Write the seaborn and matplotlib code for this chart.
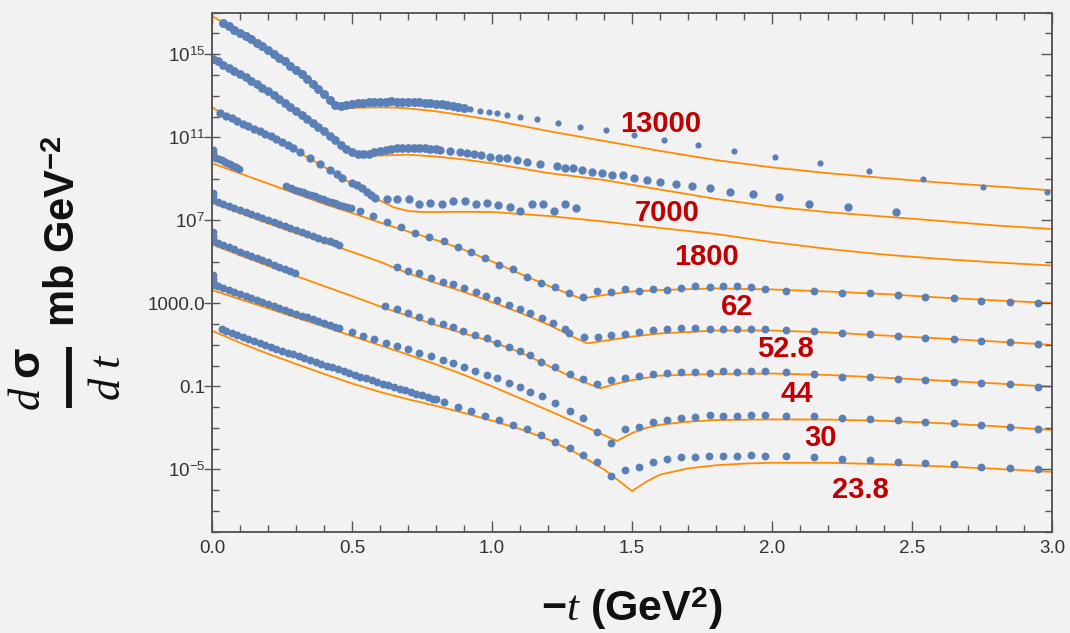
import numpy as np
import matplotlib
matplotlib.use("Agg")
import matplotlib.pyplot as plt
import seaborn as sns
from matplotlib.lines import Line2D
from matplotlib.ticker import FixedLocator, MultipleLocator, FormatStrFormatter, NullFormatter

# ---------------------------------------------------------------------------
# Data. x = -t (GeV^2); y stored as log10 of
# the plotted (already offset-scaled) d(sigma)/dt values.
# ---------------------------------------------------------------------------
energies = ["13000", "7000", "1800", "62", "52.8", "44", "30", "23.8"]

# ---- 13000 ----
t_13000 = [0.04, 0.06, 0.08, 0.10, 0.12, 0.14, 0.16, 0.18, 0.20, 0.22, 0.24, 0.26,
           0.28, 0.30, 0.32, 0.34, 0.36, 0.38, 0.40, 0.42, 0.44, 0.46, 0.48, 0.50,
           0.52, 0.54, 0.56, 0.58, 0.60, 0.62, 0.64, 0.66, 0.68, 0.70, 0.72, 0.74,
           0.76, 0.78, 0.80, 0.82, 0.84, 0.86, 0.88, 0.90, 0.922, 0.958, 0.9875, 1.0175,
           1.053, 1.099, 1.160, 1.234, 1.316, 1.407, 1.506, 1.614, 1.735, 1.866,
           2.010, 2.170, 2.346, 2.539, 2.753, 2.983]
lg_13000 = [16.50, 16.35, 16.19, 16.03, 15.87, 15.71, 15.55, 15.38, 15.21, 15.03, 14.84, 14.65,
            14.45, 14.25, 14.04, 13.82, 13.58, 13.33, 13.06, 12.79, 12.55, 12.49, 12.54, 12.60,
            12.63, 12.66, 12.68, 12.70, 12.71, 12.72, 12.73, 12.72, 12.72, 12.71, 12.70, 12.68,
            12.66, 12.64, 12.61, 12.58, 12.54, 12.50, 12.45, 12.40, 12.35, 12.28, 12.22, 12.15,
            12.07, 11.96, 11.87, 11.69, 11.51, 11.33, 11.11, 10.87, 10.63, 10.34,
            10.03, 9.77, 9.39, 9.00, 8.59, 8.36]
ct_13000 = [0, 0.05, 0.1, 0.15, 0.2, 0.25, 0.3, 0.35, 0.4, 0.43, 0.45, 0.47, 0.5, 0.55,
            0.6, 0.65, 0.7, 0.8, 0.9, 1.0, 1.2, 1.4, 1.6, 1.8, 2.0, 2.2, 2.4, 2.6, 2.8, 3.0]
clg_13000 = [16.84, 16.45, 16.05, 15.64, 15.22, 14.76, 14.25, 13.70, 13.06, 12.70, 12.52,
             12.45, 12.42, 12.43, 12.44, 12.43, 12.39, 12.25, 12.05, 11.83, 11.30, 10.82,
             10.34, 9.90, 9.55, 9.27, 9.04, 8.82, 8.63, 8.44]

# ---- 7000 ----
t_7000 = [0.005, 0.02, 0.04, 0.06, 0.08, 0.10, 0.12, 0.14, 0.16, 0.18, 0.20, 0.22, 0.24,
          0.26, 0.28, 0.30, 0.32, 0.34, 0.36, 0.38, 0.40, 0.42, 0.44, 0.46, 0.48, 0.50,
          0.52, 0.54, 0.56, 0.58, 0.60, 0.62, 0.64, 0.66, 0.68, 0.70, 0.72, 0.74, 0.76,
          0.78, 0.80, 0.815, 0.85, 0.886, 0.91, 0.934, 0.96, 0.994, 1.025, 1.053, 1.09,
          1.125, 1.172, 1.232, 1.262, 1.291, 1.321, 1.357, 1.393, 1.428, 1.468, 1.506,
          1.554, 1.601, 1.657, 1.714, 1.777, 1.851, 1.931, 2.024, 2.132, 2.272, 2.443]
lg_7000 = [14.78, 14.66, 14.50, 14.35, 14.19, 14.03, 13.88, 13.72, 13.55, 13.38, 13.21, 13.03,
           12.85, 12.66, 12.47, 12.28, 12.09, 11.90, 11.71, 11.51, 11.30, 11.08, 10.85, 10.62,
           10.42, 10.28, 10.20, 10.17, 10.21, 10.29, 10.36, 10.41, 10.45, 10.48, 10.49, 10.50,
           10.50, 10.49, 10.47, 10.45, 10.42, 10.39, 10.35, 10.30, 10.25, 10.19, 10.13, 10.06,
           10.01, 9.99, 9.90, 9.82, 9.71, 9.62, 9.52, 9.51, 9.42, 9.33, 9.29, 9.20, 9.17,
           9.02, 8.93, 8.86, 8.75, 8.67, 8.57, 8.35, 8.28, 8.11, 7.79, 7.62, 7.38]
ct_7000 = [0, 0.1, 0.2, 0.3, 0.4, 0.45, 0.5, 0.55, 0.6, 0.7, 0.8, 0.9, 1.0, 1.2, 1.4,
           1.6, 1.8, 2.0, 2.2, 2.4, 2.6, 2.8, 3.0]
clg_7000 = [14.80, 14.00, 13.18, 12.25, 11.28, 10.78, 10.24, 10.10, 10.12, 10.16, 10.07,
            9.93, 9.74, 9.28, 8.94, 8.48, 8.03, 7.66, 7.39, 7.18, 6.97, 6.75, 6.58]

# ---- 1800 ----
t_1800 = [0.03, 0.05, 0.07, 0.09, 0.11, 0.13, 0.15, 0.17, 0.19, 0.21, 0.23, 0.25, 0.27,
          0.29, 0.315, 0.35, 0.386, 0.422, 0.446, 0.464, 0.499, 0.518, 0.535, 0.553, 0.567,
          0.581, 0.624, 0.660, 0.702, 0.741, 0.779, 0.821, 0.862, 0.902, 0.944, 0.982,
          1.021, 1.063, 1.101, 1.143, 1.182, 1.222, 1.262, 1.301]
lg_1800 = [12.16, 12.04, 11.91, 11.79, 11.66, 11.54, 11.42, 11.29, 11.17, 11.04, 10.92, 10.79,
           10.63, 10.47, 10.28, 10.00, 9.71, 9.40, 9.22, 9.04, 8.80, 8.70, 8.56, 8.38, 8.22,
           8.06, 8.03, 8.03, 8.03, 7.77, 7.82, 7.79, 7.94, 7.93, 7.77, 7.82,
           7.74, 7.66, 7.46, 7.77, 7.77, 7.46, 7.79, 7.58]
ct_1800 = [0, 0.05, 0.1, 0.2, 0.3, 0.4, 0.5, 0.55, 0.6, 0.65, 0.7, 0.75, 0.8, 0.9, 1.0,
           1.2, 1.4, 1.6, 1.8, 2.0, 2.2, 2.4, 2.6, 2.8, 3.0]
clg_1800 = [12.45, 12.02, 11.70, 11.08, 10.35, 9.58, 8.76, 8.35, 7.95, 7.62, 7.45, 7.40,
            7.40, 7.41, 7.40, 7.21, 6.94, 6.63, 6.34, 5.95, 5.62, 5.35, 5.14, 4.97, 4.82]

# ---- 62 ----
t_62 = [0.002, 0.003, 0.004, 0.005, 0.015, 0.025, 0.035, 0.045, 0.055, 0.065, 0.075, 0.085,
        0.095, 0.266, 0.282, 0.297, 0.31, 0.324, 0.339, 0.354, 0.368, 0.383, 0.397, 0.411,
        0.426, 0.44, 0.454, 0.468, 0.483, 0.497, 0.529, 0.574, 0.624, 0.674, 0.726, 0.776,
        0.827, 0.877, 0.926, 0.976, 1.026, 1.075, 1.125, 1.175, 1.226, 1.276, 1.325, 1.375,
        1.425, 1.474, 1.525, 1.574, 1.625, 1.675, 1.726, 1.777, 1.825, 1.875, 1.925, 1.976,
        2.050, 2.149, 2.250, 2.349, 2.449, 2.548, 2.649, 2.748, 2.849, 2.950]
lg_62 = [10.40, 10.25, 10.15, 10.06, 10.01, 9.95, 9.89, 9.83, 9.77, 9.70, 9.63, 9.56,
         9.48, 8.63, 8.56, 8.48, 8.42, 8.35, 8.28, 8.21, 8.15, 8.08, 8.02, 7.95,
         7.89, 7.82, 7.76, 7.70, 7.66, 7.60, 7.46, 7.21, 6.93, 6.69, 6.37, 6.18,
         6.02, 5.73, 5.49, 5.18, 4.85, 4.64, 4.27, 3.97, 3.79, 3.50, 3.32, 3.59,
         3.56, 3.69, 3.59, 3.69, 3.64, 3.75, 3.83, 3.77, 3.83, 3.83, 3.77, 3.69,
         3.61, 3.61, 3.51, 3.48, 3.40, 3.32, 3.24, 3.13, 3.05, 3.03]
ct_62 = [0, 0.1, 0.2, 0.3, 0.4, 0.5, 0.6, 0.7, 0.8, 0.9, 1.0, 1.1, 1.2, 1.3, 1.32, 1.4,
         1.5, 1.6, 1.8, 2.0, 2.2, 2.4, 2.6, 2.8, 3.0]
clg_62 = [9.75, 9.26, 8.77, 8.28, 7.79, 7.35, 6.89, 6.46, 6.05, 5.58, 5.02, 4.43, 3.85,
          3.32, 3.23, 3.40, 3.57, 3.64, 3.72, 3.67, 3.57, 3.45, 3.28, 3.14, 3.02]

# ---- 52.8 ----
t_52 = [0.002, 0.003, 0.005, 0.02, 0.04, 0.06, 0.08, 0.10, 0.12, 0.14, 0.16, 0.18, 0.20,
        0.22, 0.24, 0.26, 0.28, 0.30, 0.32, 0.34, 0.36, 0.38, 0.40, 0.42, 0.44, 0.455,
        0.660, 0.699, 0.741, 0.782, 0.824, 0.862, 0.900, 0.942, 0.979, 1.017, 1.059, 1.099,
        1.137, 1.180, 1.217, 1.262, 1.276, 1.327, 1.377, 1.425, 1.474, 1.526, 1.574, 1.625,
        1.675, 1.726, 1.777, 1.825, 1.875, 1.925, 1.976, 2.050, 2.149, 2.250, 2.349, 2.449,
        2.548, 2.649, 2.748, 2.849, 2.950]
lg_52 = [8.30, 8.15, 7.98, 7.90, 7.80, 7.70, 7.60, 7.50, 7.40, 7.30, 7.20, 7.10, 7.00,
         6.91, 6.81, 6.72, 6.62, 6.53, 6.44, 6.35, 6.25, 6.16, 6.07, 5.98, 5.89, 5.82,
         4.74, 4.57, 4.45, 4.24, 4.04, 3.92, 3.72, 3.56, 3.35, 3.16, 2.92, 2.71,
         2.52, 2.28, 2.04, 1.76, 1.59, 1.39, 1.36, 1.47, 1.52, 1.63, 1.72, 1.75,
         1.80, 1.80, 1.76, 1.76, 1.75, 1.75, 1.75, 1.72, 1.67, 1.56, 1.51, 1.43,
         1.35, 1.27, 1.20, 1.12, 1.03]
ct_52 = [0, 0.1, 0.2, 0.3, 0.4, 0.5, 0.6, 0.7, 0.8, 0.9, 1.0, 1.1, 1.2, 1.3, 1.34, 1.4,
         1.5, 1.6, 1.8, 2.0, 2.2, 2.4, 2.6, 2.8, 3.0]
clg_52 = [7.85, 7.35, 6.86, 6.38, 5.93, 5.48, 5.00, 4.45, 3.98, 3.55, 3.06, 2.55, 1.98,
          1.32, 1.07, 1.19, 1.40, 1.55, 1.69, 1.69, 1.60, 1.45, 1.31, 1.16, 1.00]

# ---- 44 ----
t_44 = [0.002, 0.003, 0.004, 0.005, 0.02, 0.04, 0.06, 0.08, 0.10, 0.12, 0.14, 0.16, 0.18,
        0.20, 0.22, 0.24, 0.26, 0.28, 0.295,
        0.618, 0.660, 0.699, 0.741, 0.782, 0.824, 0.862, 0.898, 0.940, 0.981, 1.019, 1.059,
        1.099, 1.137, 1.175, 1.226, 1.277, 1.325, 1.375, 1.425, 1.474, 1.526, 1.574, 1.625,
        1.675, 1.726, 1.777, 1.825, 1.875, 1.925, 1.976, 2.050, 2.149, 2.250, 2.349, 2.449,
        2.548, 2.649, 2.748, 2.849, 2.950]
lg_44 = [6.45, 6.25, 6.12, 6.00, 5.92, 5.81, 5.70, 5.60, 5.49, 5.39, 5.28, 5.18, 5.07,
         4.97, 4.86, 4.76, 4.65, 4.55, 4.46,
         2.87, 2.71, 2.55, 2.33, 2.16, 2.02, 1.85, 1.68, 1.47, 1.32, 1.10, 0.91,
         0.72, 0.51, 0.19, -0.05, -0.40, -0.66, -0.89, -0.69, -0.61, -0.50, -0.40, -0.34,
         -0.29, -0.29, -0.34, -0.26, -0.32, -0.26, -0.26, -0.29, -0.42, -0.56, -0.56, -0.64,
         -0.69, -0.77, -0.82, -0.90, -1.02]
ct_44 = [0, 0.1, 0.2, 0.3, 0.4, 0.5, 0.6, 0.7, 0.8, 0.9, 1.0, 1.1, 1.2, 1.3, 1.387, 1.45,
         1.5, 1.6, 1.8, 2.0, 2.2, 2.4, 2.6, 2.8, 3.0]
clg_44 = [5.83, 5.32, 4.81, 4.32, 3.83, 3.35, 2.85, 2.40, 1.95, 1.55, 1.15, 0.65, 0.00,
          -0.65, -1.09, -0.85, -0.70, -0.48, -0.40, -0.38, -0.45, -0.58, -0.72, -0.86, -1.02]

# ---- 30 ----
t_30 = [0.002, 0.003, 0.004, 0.005, 0.02, 0.04, 0.06, 0.08, 0.10, 0.12, 0.14, 0.16, 0.18,
        0.20, 0.22, 0.24, 0.26, 0.28, 0.30, 0.32, 0.34, 0.36, 0.38, 0.40, 0.42, 0.44, 0.455,
        0.499, 0.541, 0.580, 0.621, 0.660, 0.699, 0.741, 0.782, 0.824, 0.862, 0.900, 0.940,
        0.981, 1.019, 1.059, 1.099, 1.137, 1.178, 1.226, 1.277, 1.325, 1.375, 1.425, 1.474,
        1.526, 1.574, 1.625, 1.675, 1.726, 1.777, 1.825, 1.875, 1.925, 1.976, 2.050, 2.149,
        2.250, 2.349, 2.449, 2.548, 2.649, 2.748, 2.849, 2.950]
lg_30 = [4.35, 4.15, 4.02, 3.90, 3.83, 3.73, 3.64, 3.54, 3.44, 3.35, 3.25, 3.16, 3.06,
         2.97, 2.88, 2.78, 2.69, 2.60, 2.51, 2.41, 2.32, 2.23, 2.14, 2.05, 1.96, 1.86, 1.79,
         1.61, 1.43, 1.27, 1.10, 0.96, 0.79, 0.62, 0.46, 0.27, 0.11, -0.05, -0.24,
         -0.45, -0.61, -0.82, -1.02, -1.26, -1.45, -1.79, -2.17, -2.54, -3.21, -3.71, -3.07,
         -2.94, -2.70, -2.62, -2.51, -2.46, -2.38, -2.41, -2.41, -2.38, -2.38, -2.43, -2.43,
         -2.51, -2.59, -2.62, -2.70, -2.78, -2.86, -2.94, -3.05]
ct_30 = [0, 0.1, 0.2, 0.3, 0.4, 0.5, 0.6, 0.7, 0.8, 0.9, 1.0, 1.1, 1.2, 1.3, 1.4, 1.446,
         1.5, 1.55, 1.6, 1.7, 1.8, 2.0, 2.2, 2.4, 2.6, 2.8, 3.0]
clg_30 = [3.64, 3.20, 2.76, 2.32, 1.88, 1.43, 0.98, 0.53, 0.06, -0.45, -1.00, -1.57, -2.15,
          -2.75, -3.35, -3.63, -3.25, -3.00, -2.85, -2.70, -2.62, -2.59, -2.60, -2.66, -2.77,
          -2.92, -3.10]

# ---- 23.8 ----
t_23 = [0.035, 0.05, 0.07, 0.09, 0.11, 0.13, 0.15, 0.17, 0.19, 0.21, 0.23, 0.25, 0.27,
        0.29, 0.31, 0.33, 0.35, 0.37, 0.39, 0.41, 0.43, 0.45, 0.47, 0.49, 0.51, 0.53, 0.55,
        0.57, 0.59, 0.61, 0.63, 0.65, 0.67, 0.69, 0.71, 0.73, 0.75, 0.77, 0.79, 0.80,
        0.827, 0.877, 0.926, 0.976, 1.026, 1.075, 1.125, 1.175, 1.226, 1.277, 1.325, 1.375,
        1.425, 1.474, 1.526, 1.574, 1.625, 1.675, 1.726, 1.776, 1.825, 1.875, 1.925, 1.976,
        2.050, 2.149, 2.250, 2.349, 2.449, 2.548, 2.649, 2.748, 2.849, 2.950]
lg_23 = [1.75, 1.67, 1.57, 1.47, 1.37, 1.28, 1.18, 1.09, 0.99, 0.90, 0.81, 0.72, 0.63,
         0.54, 0.45, 0.36, 0.27, 0.18, 0.09, 0.00, -0.09, -0.18, -0.27, -0.36, -0.44, -0.53,
         -0.61, -0.70, -0.78, -0.87, -0.95, -1.03, -1.11, -1.19, -1.27, -1.35, -1.43, -1.51,
         -1.59, -1.63,
         -1.74, -1.98, -2.17, -2.41, -2.62, -2.86, -3.07, -3.34, -3.66, -3.98, -4.31, -4.63,
         -5.30, -5.03, -4.87, -4.63, -4.51, -4.42, -4.39, -4.35, -4.34, -4.34, -4.31, -4.34,
         -4.34, -4.39, -4.50, -4.55, -4.63, -4.68, -4.72, -4.87, -4.92, -4.98]
ct_23 = [0, 0.1, 0.2, 0.3, 0.4, 0.5, 0.6, 0.7, 0.8, 0.9, 1.0, 1.1, 1.2, 1.3, 1.4, 1.5,
         1.55, 1.6, 1.7, 1.8, 1.9, 2.0, 2.2, 2.4, 2.6, 2.8, 3.0]
clg_23 = [1.68, 1.10, 0.57, 0.08, -0.40, -0.86, -1.27, -1.62, -1.94, -2.28, -2.65, -3.05,
          -3.55, -4.20, -5.00, -6.04, -5.60, -5.25, -4.95, -4.80, -4.72, -4.68, -4.68, -4.75,
          -4.85, -4.97, -5.12]

# y tick labels (Mathematica style)
ytick_vals = [1e15, 1e11, 1e7, 1e3, 1e-1, 1e-5]
ytick_text = [r"$10^{15}$", r"$10^{11}$", r"$10^{7}$", "1000.0", "0.1", r"$10^{-5}$"]

# ---------------------------------------------------------------------------
# Styling
# ---------------------------------------------------------------------------
BG = "#f2f2f2"
BLUE = "#5b80b8"
ORANGE = "#ff8c00"
RED = "#c00000"
AXC = "#555555"
INK = "#111111"

sns.set_theme(style="white")
plt.rcParams["font.family"] = ["Liberation Sans", "DejaVu Sans"]
plt.rcParams["mathtext.fontset"] = "custom"
plt.rcParams["mathtext.rm"] = "Liberation Sans"
plt.rcParams["mathtext.it"] = "Liberation Serif:italic"
plt.rcParams["mathtext.bf"] = "Liberation Sans:bold"

fig = plt.figure(figsize=(10.7, 6.33), dpi=100, facecolor=BG)
ax = fig.add_axes([212 / 1070, 1 - 531.7 / 633, 840 / 1070, 519 / 633])
ax.set_facecolor(BG)
ax.set_yscale("log")

# (curve x, curve log10 y, data x, data log10 y, marker area, tail index, tail area)
series = [
    (ct_13000, clg_13000, t_13000, lg_13000, 42, 44, 20),
    (ct_7000, clg_7000, t_7000, lg_7000, 40, 41, 36),
    (ct_1800, clg_1800, t_1800, lg_1800, 36, None, None),
    (ct_62, clg_62, t_62, lg_62, 32, None, None),
    (ct_52, clg_52, t_52, lg_52, 32, None, None),
    (ct_44, clg_44, t_44, lg_44, 32, None, None),
    (ct_30, clg_30, t_30, lg_30, 32, None, None),
    (ct_23, clg_23, t_23, lg_23, 32, None, None),
]

for ct, clg, t, lg, s, cut, s_tail in series:
    sns.lineplot(x=ct, y=10.0 ** np.asarray(clg), ax=ax, color=ORANGE, lw=1.3,
                 estimator=None, sort=False, zorder=2)
    t = np.asarray(t)
    y = 10.0 ** np.asarray(lg)
    if cut is None:
        sns.scatterplot(x=t, y=y, ax=ax, color=BLUE, s=s, linewidth=0, zorder=3)
    else:
        sns.scatterplot(x=t[:cut], y=y[:cut], ax=ax, color=BLUE, s=s, linewidth=0, zorder=3)
        sns.scatterplot(x=t[cut:], y=y[cut:], ax=ax, color=BLUE, s=s_tail, linewidth=0,
                        zorder=3)

ax.set_xlim(0, 3.0)
ax.set_ylim(1e-8, 1e17)

# energy labels (layout positions)
label_pos = [(1.601, 11.78), (1.627, 7.50), (1.765, 5.38), (1.874, 2.97),
             (2.048, 0.95), (2.090, -1.22), (2.175, -3.32), (2.316, -5.83)]
for name, (lx, ly) in zip(energies, label_pos):
    ax.text(lx, 10.0 ** ly, name, color=RED, fontsize=21, fontweight="bold",
            ha="center", va="center_baseline", zorder=5)

# ---- ticks: x (bottom + top, inward) ----
ax.xaxis.set_major_locator(MultipleLocator(0.5))
ax.xaxis.set_minor_locator(MultipleLocator(0.1))
ax.xaxis.set_major_formatter(FormatStrFormatter("%.1f"))
ax.tick_params(axis="x", which="both", direction="in", top=True, bottom=True,
               color=AXC, labelcolor="#333333", labelsize=13.5, width=1)
ax.tick_params(axis="x", which="major", length=8, pad=6)
ax.tick_params(axis="x", which="minor", length=5)

# ---- ticks: y left (major ticks cross the frame) ----
minor_decades = [10.0 ** k for k in range(-8, 18)]
ax.yaxis.set_major_locator(FixedLocator(ytick_vals))
ax.yaxis.set_minor_locator(FixedLocator(minor_decades))
ax.set_yticklabels(ytick_text)
ax.yaxis.set_minor_formatter(NullFormatter())
ax.tick_params(axis="y", which="both", left=True, right=False, color=AXC,
               labelcolor="#333333", labelsize=13.5, width=1)
ax.tick_params(axis="y", which="major", direction="inout", length=12, pad=-1)
ax.tick_params(axis="y", which="minor", direction="in", length=5)

# ---- ticks: y right (inward, no labels) ----
axr = ax.twinx()
axr.set_yscale("log")
axr.set_ylim(ax.get_ylim())
axr.yaxis.set_major_locator(FixedLocator(ytick_vals))
axr.yaxis.set_minor_locator(FixedLocator(minor_decades))
axr.yaxis.set_major_formatter(NullFormatter())
axr.yaxis.set_minor_formatter(NullFormatter())
axr.tick_params(axis="y", which="both", direction="in", color=AXC, width=1)
axr.tick_params(axis="y", which="major", length=8)
axr.tick_params(axis="y", which="minor", length=5)

for a in (ax, axr):
    for sp in a.spines.values():
        sp.set_color(AXC)
        sp.set_linewidth(1.1)

# x axis title
ax.set_xlabel(r"$\mathbf{-}t$ (GeV$^{\mathbf{2}}$)", fontsize=31, fontweight="bold",
              color=INK)
ax.xaxis.set_label_coords(0.5, -0.103)
ax.xaxis.label.set_va("top")

# y axis title built as a vertical fraction  d sigma / d t  followed by the unit
W, H = 1070.0, 633.0
fig.text(28 / W, 1 - 379 / H, r"$d\ \mathbf{\sigma}$", rotation=90, fontsize=32,
         color=INK, ha="center", va="center")
fig.add_artist(Line2D([68.5 / W, 68.5 / W], [1 - 347 / H, 1 - 408 / H], lw=4.2,
                      color=INK, solid_capstyle="butt"))
fig.text(108 / W, 1 - 377 / H, r"$d\ t$", rotation=90, fontsize=32,
         color=INK, ha="center", va="center")
fig.text(64 / W, 1 - 231 / H, r"mb GeV$^{\mathbf{-2}}$", rotation=90, fontsize=30,
         fontweight="bold", color=INK, ha="center", va="center")

fig.savefig("out.png", dpi=100, facecolor=BG)
